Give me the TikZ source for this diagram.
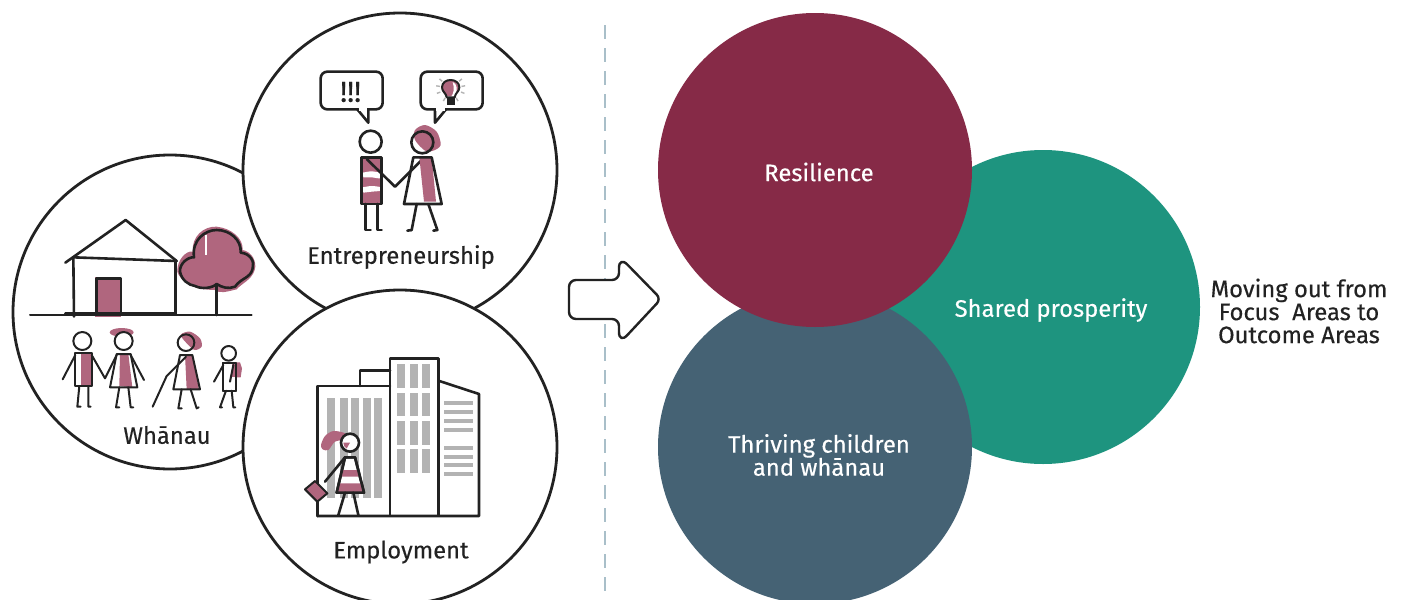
\documentclass[tikz,border=0pt]{standalone}
\usepackage{fontspec}
\usetikzlibrary{calc}
\setmainfont[FakeBold=0.35]{Fira Sans}
\definecolor{pinkpen}{HTML}{B0667E}
\definecolor{maroon}{HTML}{862A47}
\definecolor{teal2}{HTML}{1E947F}
\definecolor{slate}{HTML}{456274}
\definecolor{ink}{HTML}{222222}
\definecolor{dashc}{HTML}{A9BFC9}
\definecolor{wingrey}{HTML}{B3B3B3}
\tikzset{
 ring/.style={circle,draw=ink,line width=1.4pt,fill=white,minimum size=157pt,inner sep=0pt},
 disc/.style={circle,minimum size=157pt,inner sep=0pt},
 lab/.style={font=\fontsize{11.9}{11.5}\selectfont,text=ink,inner sep=0pt,align=center},
 wlab/.style={font=\fontsize{11.9}{11.5}\selectfont,text=white,inner sep=0pt,align=center},
 pen/.style={draw=ink,line width=1.3pt,line cap=round,line join=round},
 thin pen/.style={draw=ink,line width=1pt,line cap=round,line join=round},
 zoomA/.style={shift={(20,200)},x=0.16667pt,y=-0.16667pt},
 zoomB/.style={shift={(300,60)},x=0.16667pt,y=-0.16667pt},
 zoomC/.style={shift={(290,350)},x=0.16667pt,y=-0.16667pt},
}
\begin{document}
\begin{tikzpicture}[x=.5pt,y=-.5pt]
\useasboundingbox (0,0) rectangle (1404,600);
\fill[white] (0,0) rectangle (1404,600);
% left circles
\node[ring] (whanau) at (170,312) {};
\node[ring] (entre) at (400,170) {};
\node[ring] (employ) at (400,447) {};
% divider
\coordinate (divtop) at (605,25);
\coordinate (divbot) at (605,592);
\draw[dashc,line width=1.3pt,dash pattern=on 7pt off 4.5pt] (divtop) -- (divbot);
% arrow
\draw[draw=ink,fill=white,line width=1.2pt,rounded corners=3.5pt]
 (569,280) -- (619,280) [rounded corners=6pt] -- (619,256) [rounded corners=3pt] -- (661,299) [rounded corners=6pt] -- (619,344) [rounded corners=3.5pt] -- (619,319) -- (569,319) -- cycle;
% right circles
\node[disc,fill=teal2] (shared) at (1043,307) {};
\node[disc,fill=slate] (thriving) at (815,447) {};
\node[disc,fill=maroon] (resil) at (815,170) {};
% labels
\node[lab] (t1) at (401,257) {Entrepreneurship};
\node[lab] (t2) at (167,435) {Whānau};
\node[lab] (t3) at (401,552) {Employment};
\node[wlab] (t4) at (819,172) {Resilience};
\node[wlab] (t5) at (1051,310) {Shared prosperity};
\node[wlab] (t6) at (819,455) {Thriving children\\and whānau};
\node[lab] (t7) at (1299,311) {Moving out from\\Focus\ \ Areas to\\Outcome Areas};
% Whanau art
\begin{scope}[zoomA]
 \fill[pinkpen] (472,215) .. controls (470,180) and (500,150) .. (518,155) .. controls (515,110) and (550,78) .. (590,80) .. controls (635,85) and (670,115) .. (668,150) .. controls (695,155) and (712,185) .. (704,210) .. controls (695,240) and (665,250) .. (650,268) .. controls (620,275) and (600,282) .. (585,270) .. controls (560,270) and (490,265) .. (472,215) -- cycle;
 \fill[white] (556,105) rectangle (560,165);
 \draw[pen] (480,215) .. controls (478,190) and (505,170) .. (522,172) .. controls (515,120) and (555,90) .. (590,90) .. controls (630,90) and (665,120) .. (662,158) .. controls (690,160) and (705,185) .. (698,205) .. controls (692,235) and (665,232) .. (645,260) .. controls (625,268) and (605,262) .. (590,252) .. controls (575,265) and (545,268) .. (525,258) .. controls (505,255) and (485,240) .. (480,215) -- cycle;
 \draw[pen] (590,255) -- (590,345);
 \fill[pinkpen] (226,230) rectangle (304,350);
 \draw[pen] (230,235) rectangle (303,340);
 \draw[pen] (136,188) -- (317,60) -- (470,183);
 \draw[pen] (160,172) -- (470,183);
 \draw[pen] (160,172) -- (162,350);
 \draw[pen] (466,183) -- (466,342);
 \draw[thin pen] (30,345) -- (695,345);
 \draw[pen] (136,341) -- (466,341);
 % person 1
 \fill[pinkpen] (182,460) rectangle (215,558);
 \draw[thin pen] (187,423) circle[radius=27];
 \draw[thin pen] (166,460) rectangle (215,558);
 \draw[thin pen] (166,465) -- (128,538);
 \draw[thin pen] (215,465) -- (255,535) -- (290,465);
 \draw[thin pen] (178,558) -- (172,620) -- (182,620) (205,558) -- (205,620) -- (212,620);
 % person 2
 \fill[pinkpen] (305,397) ellipse[x radius=36,y radius=13];
 \fill[pinkpen] (300,462) -- (325,462) -- (337,562) -- (298,558) -- cycle;
 \draw[thin pen,fill=white] (311,423) circle[radius=27];
 \draw[thin pen] (290,462) -- (332,462) -- (352,562) -- (270,562) -- cycle;
 \draw[thin pen] (332,465) -- (372,540);
 \draw[thin pen] (298,562) -- (288,622) -- (298,622) (325,562) -- (332,622) -- (340,622);
 % person 3
 \fill[pinkpen] plot[smooth cycle] coordinates {(482,405)(510,395)(540,415)(545,440)(525,450)(505,435)};
 \fill[pinkpen] (495,465) -- (517,465) -- (537,568) -- (500,568) -- cycle;
 \draw[thin pen] (498,428) circle[radius=25];
 \draw[thin pen] (480,465) -- (517,465) -- (540,568) -- (460,568) -- cycle;
 \draw[thin pen] (498,470) -- (440,528) -- (398,620);
 \draw[thin pen] (485,568) -- (475,625) -- (485,625) (512,568) -- (530,625) -- (536,622);
 % person 4
 \fill[pinkpen] (635,487) -- (660,487) -- (666,505) -- (662,532) -- (635,532) -- cycle;
 \draw[thin pen] (626,460) circle[radius=22];
 \draw[thin pen,fill=white] (610,488) rectangle (648,572);
 \fill[pinkpen] (636,488) rectangle (648,530);
 \draw[thin pen] (610,488) rectangle (648,572);
 \draw[thin pen] (610,495) -- (582,545);
 \draw[thin pen] (640,495) -- (630,545);
 \draw[thin pen] (618,572) -- (600,622) -- (606,622) (635,572) -- (640,622) -- (646,622);
\end{scope}
% Entrepreneurship art
\begin{scope}[zoomB]
 \draw[pen,rounded corners=3.3pt] (62,35) rectangle (248,148);
 \draw[pen,fill=white] (172,148) -- (205,188) -- (205,148);
 \draw[white,line width=1.4pt] (176,148) -- (202,148);
 \draw[pen,rounded corners=3.3pt] (362,35) rectangle (548,148);
 \draw[pen,fill=white] (405,148) -- (405,188) -- (438,148);
 \draw[white,line width=1.4pt] (408,148) -- (434,148);
 \node[font=\fontsize{14.5}{14.5}\selectfont,text=ink,inner sep=0pt] (bang) at (152,96) {!!!};
 % bulb
 \foreach \a in {-40,-10,20,60,90,120,160,190,220}
   \draw[wingrey,line width=.7pt] ($(452,85)+(\a:33)$) -- ($(452,85)+(\a:44)$);
 \fill[pinkpen] (450,84) circle[radius=25];
 \fill[white] (466,72) .. controls (474,85) and (470,100) .. (462,112) -- (452,112) .. controls (462,100) and (464,85) .. (458,66) -- cycle;
 \draw[thin pen] (440,112) .. controls (438,98) and (426,95) .. (426,82) .. controls (426,68) and (438,60) .. (452,60) .. controls (466,60) and (478,68) .. (478,82) .. controls (478,95) and (466,98) .. (464,112) -- cycle;
 \fill[ink] (440,114) rectangle (464,134);
 % man
 \fill[pinkpen] (185,292) rectangle (245,432);
 \fill[white] plot[smooth] coordinates {(188,338)(215,334)(243,340)(243,355)(215,352)(190,352)} -- cycle;
 \fill[white] plot[smooth] coordinates {(188,382)(215,378)(243,382)(243,392)(215,395)(190,398)} -- cycle;
 \draw[pen] (212,245) circle[radius=33];
 \draw[pen] (185,292) rectangle (245,432);
 \draw[pen] (200,297) -- (285,380) -- (365,300);
 \draw[pen] (197,432) -- (197,510) -- (212,510) (232,432) -- (232,510) -- (245,510);
 % woman
 \fill[pinkpen] plot[smooth cycle] coordinates {(345,210)(375,195)(410,215)(422,255)(400,272)(375,272)(345,240)};
 \fill[pinkpen] (358,292) -- (395,292) -- (408,425) -- (372,425) -- cycle;
 \draw[pen] (367,247) circle[radius=33];
 \draw[pen] (340,292) -- (395,292) -- (425,432) -- (312,432) -- cycle;
 \draw[pen] (350,432) -- (335,510) (385,432) -- (412,510) -- (400,512);
 \draw[pen] (335,510) -- (322,512);
\end{scope}
% Employment art
\begin{scope}[zoomC]
 \foreach \x in {112,150,182,220,253} \fill[wingrey] (\x,145) rectangle ++(24,300);
 \foreach \x in {322,360,396} \foreach \y in {42,128,213,297} \fill[wingrey] (\x,\y) rectangle ++(23,71);
 \foreach \y in {160,187,214,241,295,321,346,371} \fill[wingrey] (462,\y-6) rectangle (548,\y+6);
 \draw[pen] (82,498) -- (82,108) -- (300,108);
 \draw[pen] (210,108) -- (210,62) -- (300,62);
 \draw[pen] (300,25) rectangle (445,498);
 \draw[pen] (445,92) -- (567,132) -- (567,498) -- (82,498);
 % woman
 \fill[pinkpen] plot[smooth cycle] coordinates {(93,285)(105,258)(130,243)(165,250)(165,268)(135,275)(115,300)(98,298)};
 \draw[pen,fill=white] (180,278) circle[radius=27];
 \fill[pinkpen] (160,278) arc[start angle=180,end angle=120,radius=20] -- (180,278) -- cycle;
 \draw[pen,fill=white] (165,322) -- (195,322) -- (222,428) -- (140,428) -- cycle;
 \fill[pinkpen] (157,360) -- (203,360) -- (208,380) -- (152,380) -- cycle;
 \fill[pinkpen] (148,400) -- (213,400) -- (220,426) -- (142,426) -- cycle;
 \draw[pen] (165,322) -- (195,322) -- (222,428) -- (140,428) -- cycle;
 \draw[pen] (165,322) -- (105,395);
 \draw[pen] (165,428) -- (145,495) (190,428) -- (205,495);
 \fill[pinkpen] (45,418) -- (75,393) -- (112,430) -- (82,455) -- cycle;
 \draw[thin pen] (45,418) -- (75,393) -- (112,430) -- (82,455) -- cycle;
\end{scope}
\end{tikzpicture}
\end{document}
